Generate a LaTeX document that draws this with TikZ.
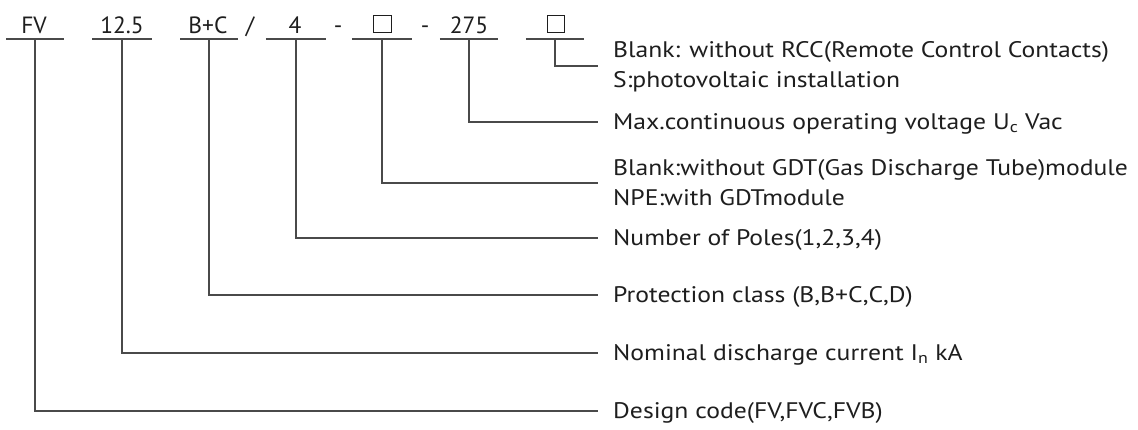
\documentclass[tikz,border=0pt]{standalone}
\usepackage{fontspec}
\setmainfont[FakeStretch=1.14]{PT Sans}
\newfontfamily\codefont{PT Sans}
\definecolor{ink}{HTML}{1E1E1E}
\definecolor{wire}{HTML}{4A4A4A}
\begin{document}
\begin{tikzpicture}[x=1pt,y=-1pt,
  ul/.style={rectangle,minimum width=#1,minimum height=0pt,inner sep=0pt},
  codetxt/.style={anchor=base,inner sep=0pt,text=ink,font=\codefont\fontsize{23.5pt}{28pt}\selectfont},
  sqbox/.style={draw=ink,line width=1.1pt,minimum size=17.5pt,inner sep=0pt},
  desc/.style={anchor=west,inner xsep=15pt,inner ysep=0pt,align=left,text=ink,font=\fontsize{22.5pt}{30pt}\selectfont},
  wireln/.style={draw=wire,line width=1.4pt}]
\useasboundingbox (0,0) rectangle (1138,429);
\fill[white] (0,0) rectangle (1138,429);
% underlines
\node[ul=57pt] (u1) at (35,39) {};
\node[ul=59pt] (u2) at (122,39) {};
\node[ul=57pt] (u3) at (209,39) {};
\node[ul=60pt] (u4) at (296,39) {};
\node[ul=60pt] (u5) at (382,39) {};
\node[ul=58pt] (u6) at (469,39) {};
\node[ul=58pt] (u7) at (555,39) {};
\foreach \i in {1,...,7} {\draw[wireln] (u\i.west) -- (u\i.east);}
% code text
\node[codetxt] (t1) at (34,33) {FV};
\node[codetxt] (t2) at (122,33) {12.5};
\node[codetxt] (t3) at (208,33) {B+C};
\node[codetxt] (s1) at (250,33) {/};
\node[codetxt] (t4) at (295,33) {4};
\node[codetxt] (s2) at (338,33) {-};
\node[sqbox] (t5) at (382.5,24) {};
\node[codetxt] (s3) at (425,33) {-};
\node[codetxt] (t6) at (469,33) {275};
\node[sqbox] (t7) at (556,24) {};
% descriptions
\node[desc] (d7) at (598,67) {Blank: without RCC(Remote Control Contacts)\\S:photovoltaic installation};
\node[desc] (d6) at (598,124) {Max.continuous operating voltage U\textsubscript{c} Vac};
\node[desc] (d5) at (598,183) {Blank:without GDT(Gas Discharge Tube)module\\NPE:with GDTmodule};
\node[desc] (d4) at (598,240) {Number of Poles(1,2,3,4)};
\node[desc] (d3) at (598,297) {Protection class (B,B+C,C,D)};
\node[desc] (d2) at (598,355) {Nominal discharge current I\textsubscript{n} kA};
\node[desc] (d1) at (598,413) {Design code(FV,FVC,FVB)};
% connectors
\draw[wireln] (u7.center) |- ([yshift=1pt]d7.west);
\draw[wireln] (u6.center) |- ([yshift=2pt]d6.west);
\draw[wireln] (u5.center) |- (d5.west);
\draw[wireln] (u4.center) |- ([yshift=2pt]d4.west);
\draw[wireln] (u3.center) |- ([yshift=2pt]d3.west);
\draw[wireln] (u2.center) |- ([yshift=2pt]d2.west);
\draw[wireln] (u1.center) |- ([yshift=2pt]d1.west);
\end{tikzpicture}
\end{document}
